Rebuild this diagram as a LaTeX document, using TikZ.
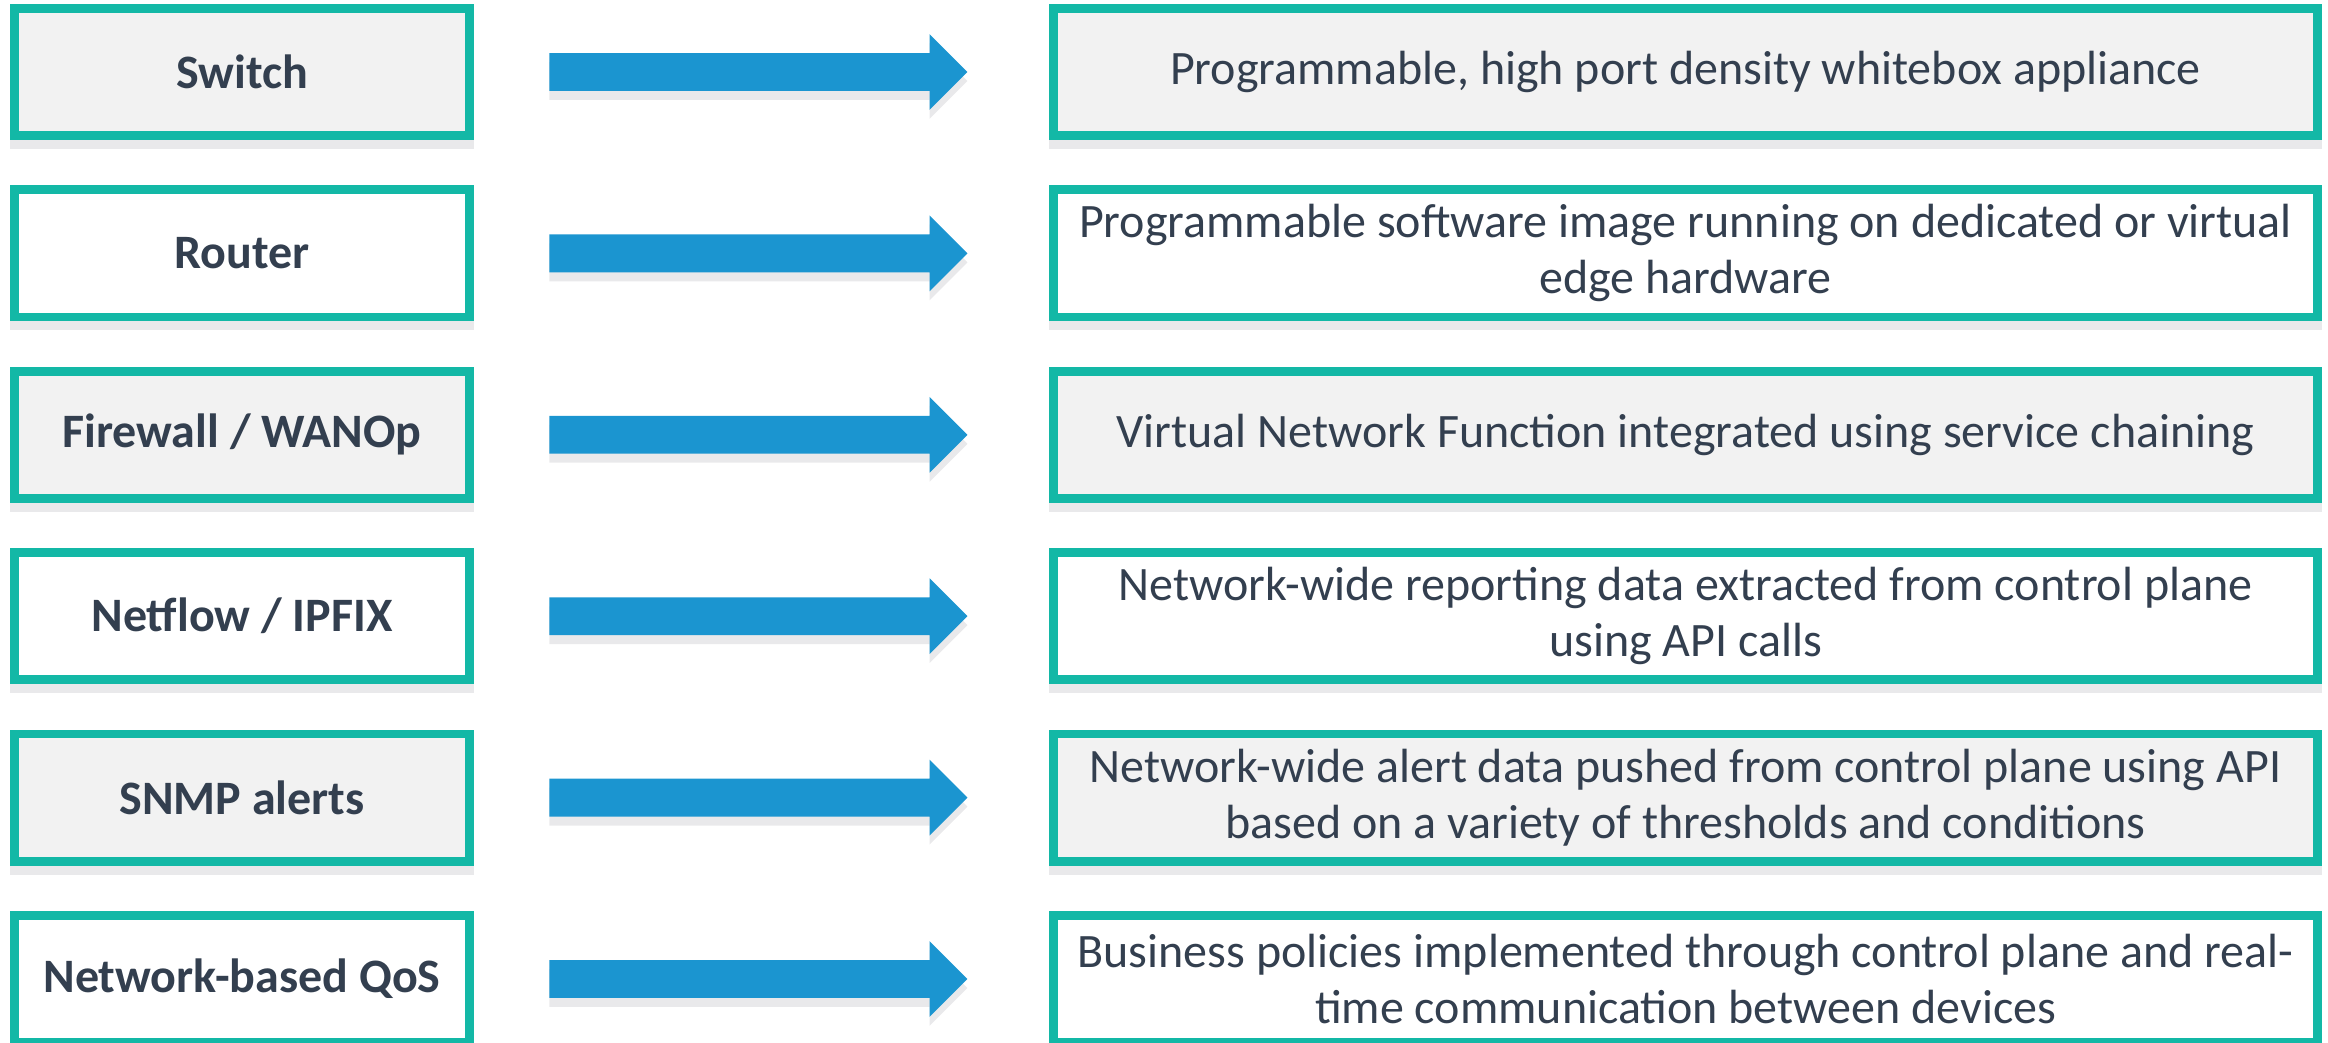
\documentclass[tikz,border=0pt]{standalone}
\usepackage{fontspec}
\setmainfont{Carlito}
\usetikzlibrary{shapes.arrows,shadows}
\definecolor{boxteal}{HTML}{13B8A6}
\definecolor{arrowblue}{HTML}{1B95D0}
\definecolor{textslate}{HTML}{333F4F}
\definecolor{boxgrey}{HTML}{F2F2F2}
\definecolor{shadowgrey}{HTML}{E9E9EB}
\begin{document}
\begin{tikzpicture}[x = 0.5pt, y = -0.5pt,
        feature/.style = {draw = boxteal, fill = white, line width = 4.35pt, text = textslate, inner sep = 0pt,
            minimum width = 227.7pt, minimum height = 63.6pt, font = \fontsize{24pt}{28pt}\selectfont\bfseries,
            drop shadow = {shadow xshift = 0pt, shadow yshift = -4.5pt, fill = shadowgrey, draw = shadowgrey, opacity = 1}},
        detail/.style = {feature, minimum width = 632pt, align = center, font = \fontsize{24pt}{28pt}\selectfont},
        shaded/.style = {fill = boxgrey},
        pointer/.style = {single arrow, fill = arrowblue, inner xsep = 0pt, inner ysep = 9.25pt, minimum height = 209pt,
            minimum width = 37.5pt, single arrow head extend = 9.5pt,
            drop shadow = {shadow xshift = 0pt, shadow yshift = -4.5pt, fill = shadowgrey, opacity = 1}}]
            \useasboundingbox (0,0) rectangle (2328,1043);
            % left column
            \node[feature, shaded] (sw) at (242,72) {Switch};
            \node[feature] (rt) at (242,253.4) {Router};
            \node[feature, shaded] (fw) at (242,434.8) {Firewall / WANOp};
            \node[feature] (nf) at (242,616.2) {Netflow / IPFIX};
            \node[feature, shaded] (snmp) at (242,797.6) {SNMP alerts};
            \node[feature] (qos) at (242,979) {Network-based QoS};
            % arrows
            \node[pointer] (swto) at (749,72) {};
            \node[pointer] (rtto) at (749,253.4) {};
            \node[pointer] (fwto) at (749,434.8) {};
            \node[pointer] (nfto) at (749,616.2) {};
            \node[pointer] (snmpto) at (749,797.6) {};
            \node[pointer] (qosto) at (749,979) {};
            % right column
            \node[detail, shaded] (swinfo) at (1685.5,72) {Programmable, high port density whitebox appliance};
            \node[detail] (rtinfo) at (1685.5,253.4) {Programmable software image running on dedicated or virtual\\edge hardware};
            \node[detail, shaded] (fwinfo) at (1685.5,434.8) {Virtual Network Function integrated using service chaining};
            \node[detail] (nfinfo) at (1685.5,616.2) {Network-wide reporting data extracted from control plane\\using API calls};
            \node[detail, shaded] (snmpinfo) at (1685.5,797.6) {Network-wide alert data pushed from control plane using API\\based on a variety of thresholds and conditions};
            \node[detail] (qosinfo) at (1685.5,979) {Business policies implemented through control plane and real-\\time communication between devices};
        \end{tikzpicture}
\end{document}
